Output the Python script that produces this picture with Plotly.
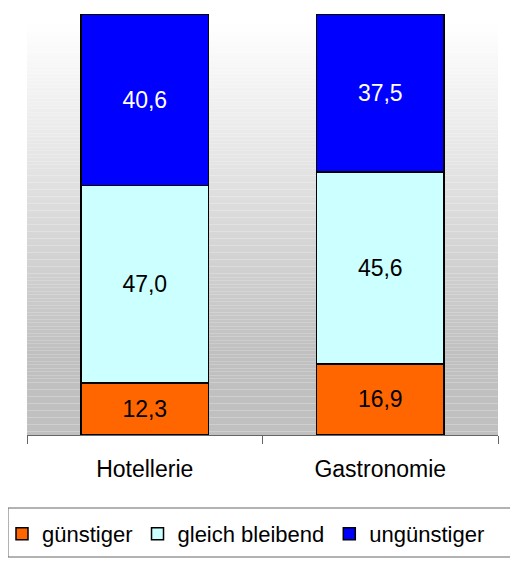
import plotly.graph_objects as go

categories = ["Hotellerie", "Gastronomie"]
series_names = ["günstiger", "gleich bleibend", "ungünstiger"]
guenstiger = [12.3, 16.9]
gleich_bleibend = [47.0, 45.6]
unguenstiger = [40.6, 37.5]
series_values = [guenstiger, gleich_bleibend, unguenstiger]
series_colors = ["#FF6600", "#CCFFFF", "#0000FF"]
text_colors = ["black", "black", "white"]

# page body has an 8px margin, so screen = figure + 8
OFF = 8
W, H = 518 - OFF, 563 - OFF
ML, MR, MT, MB = 27 - OFF, 20, 14 - OFF, 128
pw = W - ML - MR
ph = H - MT - MB

def px_x(p):
    return (p - OFF - ML) / pw

def px_y(p):
    return (H - MB - (p - OFF)) / ph

fig = go.Figure()
for name, vals, col, tc in zip(series_names, series_values, series_colors, text_colors):
    fig.add_trace(go.Bar(
        x=categories, y=vals, name=name,
        marker=dict(color=col, line=dict(color="black", width=1.5)),
        text=[f"{v:.1f}".replace(".", ",") for v in vals],
        textposition="inside", insidetextanchor="middle",
        textfont=dict(color=tc, size=23, family="Liberation Sans"),
        width=0.54, hoverinfo="skip",
    ))

# background gradient (white at top -> grey at bottom)
shapes = []
n = 120
top_px, full_px = 22, 355
for i in range(n):
    y0s = 14 + i * 421 / n
    y1s = 14 + (i + 1) * 421 / n
    mid = (y0s + y1s) / 2
    t = min(max((mid - top_px) / (full_px - top_px), 0), 1)
    g = round(255 - t * (255 - 192))
    shapes.append(dict(type="rect", xref="x domain", yref="y domain",
                       x0=0, x1=1, y0=px_y(y1s), y1=px_y(y0s),
                       fillcolor=f"rgb({g},{g},{g})", line=dict(width=0),
                       layer="below"))
# legend frame
shapes.append(dict(type="rect", xref="paper", yref="paper",
                   x0=px_x(8), x1=px_x(515), y0=px_y(557), y1=px_y(508),
                   line=dict(color="#666666", width=1), fillcolor="rgba(0,0,0,0)"))

fig.update_layout(
    width=W, height=H,
    margin=dict(l=ML, r=MR, t=MT, b=MB, autoexpand=False),
    barmode="stack",
    paper_bgcolor="white", plot_bgcolor="white",
    font=dict(family="Liberation Sans", size=23, color="black"),
    shapes=shapes,
    showlegend=True,
    legend=dict(orientation="h", x=px_x(2), xanchor="left",
                y=px_y(534), yanchor="middle", traceorder="normal",
                font=dict(size=22), borderwidth=0, bgcolor="rgba(0,0,0,0)",
                itemclick=False, tracegroupgap=0),
    xaxis=dict(showline=True, linecolor="#666666", linewidth=1,
               ticks="outside", ticklen=8, tickcolor="#666666",
               tickson="boundaries", showgrid=False, automargin=False,
               tickfont=dict(size=23), ticklabelstandoff=13),
    yaxis=dict(visible=False, range=[0, 100], automargin=False),
)

fig.write_html("out.html")
